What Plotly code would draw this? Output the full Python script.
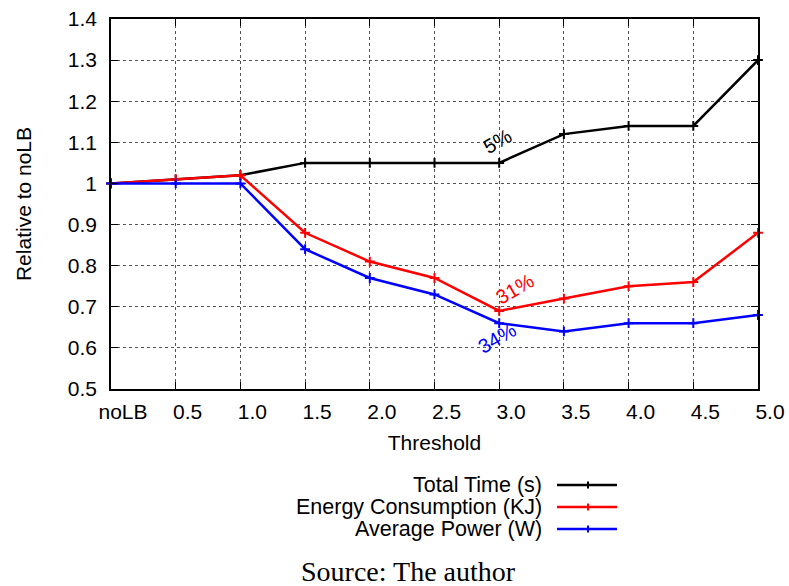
import plotly.graph_objects as go

# Threshold categories (x positions are their index)
thresholds = ["noLB", "0.5", "1.0", "1.5", "2.0", "2.5", "3.0", "3.5", "4.0", "4.5", "5.0"]
x_idx = list(range(len(thresholds)))

# Values relative to the noLB baseline
total_time = [1.00, 1.01, 1.02, 1.05, 1.05, 1.05, 1.05, 1.12, 1.14, 1.14, 1.30]
energy = [1.00, 1.01, 1.02, 0.88, 0.81, 0.77, 0.69, 0.72, 0.75, 0.76, 0.88]
power = [1.00, 1.00, 1.00, 0.84, 0.77, 0.73, 0.66, 0.64, 0.66, 0.66, 0.68]

series_names = ["Total Time (s)", "Energy Consumption (KJ)", "Average Power (W)"]
series_colors = ["#000000", "#ff0000", "#0000ff"]
series_values = [total_time, energy, power]

y_ticks = [0.5, 0.6, 0.7, 0.8, 0.9, 1.0, 1.1, 1.2, 1.3, 1.4]
y_ticktext = ["0.5", "0.6", "0.7", "0.8", "0.9", "1", "1.1", "1.2", "1.3", "1.4"]

# Percentage labels near threshold 3.0
pct_labels = [("5%", 5.98, 1.103, "#000000"),
              ("31%", 6.24, 0.743, "#ff0000"),
              ("34%", 5.97, 0.624, "#0000ff")]

FONT = "Liberation Sans, Arial, Helvetica, sans-serif"
FS = 21

fig = go.Figure()
for name, color, vals in zip(series_names, series_colors, series_values):
    fig.add_trace(go.Scatter(
        x=x_idx, y=vals, mode="lines+markers", name=name,
        line=dict(color=color, width=2.5),
        marker=dict(symbol="cross-thin", size=7, line=dict(color=color, width=2)),
        showlegend=False, cliponaxis=False,
    ))

for txt, xv, yv, col in pct_labels:
    fig.add_annotation(x=xv, y=yv, text=txt, showarrow=False, textangle=-30,
                       font=dict(family=FONT, size=20, color=col))

# Legend block below the plot: right-aligned labels with line samples on the right
leg_y_px = [485, 507, 529]
W, H = 789, 586
L, R, T, B = 111, 31, 19, 197
pw, ph = W - L - R, H - T - B
def px_to_paper(px, py):
    return (px - L) / pw, 1 - (py - T) / ph

for name, color, py in zip(series_names, series_colors, leg_y_px):
    tx, ty = px_to_paper(544, py)
    fig.add_annotation(xref="paper", yref="paper", x=tx, y=ty, text=name,
                       xanchor="right", yanchor="middle", showarrow=False,
                       font=dict(family=FONT, size=21.5, color="#000000"))
    x0, y0 = px_to_paper(557, py)
    x1, _ = px_to_paper(617, py)
    fig.add_shape(type="line", xref="paper", yref="paper", x0=x0, x1=x1, y0=y0, y1=y0,
                  line=dict(color=color, width=2.5))
    xm, _ = px_to_paper(588, py)
    _, ya = px_to_paper(588, py - 3.5)
    _, yb = px_to_paper(588, py + 3.5)
    fig.add_shape(type="line", xref="paper", yref="paper", x0=xm, x1=xm, y0=ya, y1=yb,
                  line=dict(color=color, width=2))

sx, sy = px_to_paper(408, 571)
fig.add_annotation(xref="paper", yref="paper", x=sx, y=sy, text="Source: The author",
                   xanchor="center", yanchor="middle", showarrow=False,
                   font=dict(family="Liberation Serif, Times New Roman, serif", size=28, color="#000000"))

axis_common = dict(
    showline=True, linecolor="#000000", linewidth=1.5, mirror="ticks",
    ticks="inside", ticklen=7, tickcolor="#000000", tickwidth=1,
    showgrid=True, gridcolor="#555555", griddash="dot", gridwidth=1,
    zeroline=False, automargin=False,
    tickfont=dict(family=FONT, size=FS, color="#000000"),
)

fig.update_xaxes(
    range=[0, 10], tickmode="array", tickvals=x_idx, ticktext=thresholds,
    ticklabelstandoff=3, ticklabelshift=12,
    title=dict(text="Threshold", font=dict(family=FONT, size=FS, color="#000000"), standoff=13),
    **axis_common,
)
fig.update_yaxes(
    range=[0.5, 1.4], tickmode="array", tickvals=y_ticks, ticktext=y_ticktext,
    ticklabelstandoff=8,
    title=dict(text="Relative to noLB", font=dict(family=FONT, size=FS, color="#000000"), standoff=30),
    **axis_common,
)

fig.update_layout(
    width=W, height=H,
    margin=dict(l=L, r=R, t=T, b=B),
    paper_bgcolor="white", plot_bgcolor="white",
    font=dict(family=FONT, color="#000000"),
)

fig.write_html("out.html")
